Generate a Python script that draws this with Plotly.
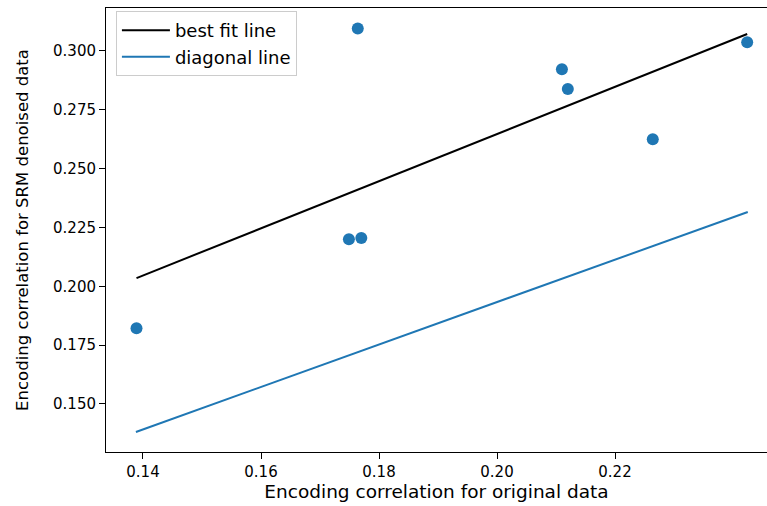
import plotly.graph_objects as go

# Data
orig_corr = [0.1389, 0.1749, 0.1770, 0.1764, 0.2110, 0.2120, 0.2264, 0.2424]
srm_corr = [0.1822, 0.2200, 0.2205, 0.3096, 0.2922, 0.2838, 0.2625, 0.3037]

fit_x = [0.1389, 0.2424]
fit_y = [0.2035, 0.3072]

diag_x = [0.1388, 0.2425]
diag_y = [0.1381, 0.2316]

x_ticks = [0.14, 0.16, 0.18, 0.20, 0.22]
x_tick_labels = ["0.14", "0.16", "0.18", "0.20", "0.22"]
y_ticks = [0.150, 0.175, 0.200, 0.225, 0.250, 0.275, 0.300]
y_tick_labels = ["0.150", "0.175", "0.200", "0.225", "0.250", "0.275", "0.300"]

BLUE = "#1f77b4"
FONT = "DejaVu Sans"
TICK_FS = 15

fig = go.Figure()
fig.add_trace(go.Scatter(x=fit_x, y=fit_y, mode="lines", name="best fit line",
                         line=dict(color="black", width=2)))
fig.add_trace(go.Scatter(x=diag_x, y=diag_y, mode="lines", name="diagonal line",
                         line=dict(color=BLUE, width=2)))
fig.add_trace(go.Scatter(x=orig_corr, y=srm_corr, mode="markers", showlegend=False,
                         marker=dict(color=BLUE, size=12, line=dict(width=0))))

fig.update_layout(
    width=767, height=506,
    margin=dict(l=106, r=0, t=8, b=54),
    paper_bgcolor="white", plot_bgcolor="white",
    font=dict(family=FONT, size=TICK_FS, color="black"),
    legend=dict(x=0.015, y=0.993, xanchor="left", yanchor="top",
                bgcolor="rgba(255,255,255,0.8)", bordercolor="#cccccc", borderwidth=1,
                font=dict(family=FONT, size=18, color="black"),
                itemwidth=48, tracegroupgap=0),
)
fig.update_xaxes(
    range=[0.13373, 0.24576], tickvals=x_ticks, ticktext=x_tick_labels,
    showgrid=False, zeroline=False, showline=True, linecolor="black", linewidth=1,
    mirror=True, ticks="outside", ticklen=6, tickcolor="black", tickwidth=1,
    tickfont=dict(family=FONT, size=TICK_FS, color="black"),
    title=dict(text="Encoding correlation for original data", standoff=5,
               font=dict(family=FONT, size=18.5, color="black")),
)
fig.update_yaxes(
    range=[0.12958, 0.31827], tickvals=y_ticks, ticktext=y_tick_labels,
    showgrid=False, zeroline=False, showline=True, linecolor="black", linewidth=1,
    mirror=False, ticks="outside", ticklen=6, tickcolor="black", tickwidth=1,
    tickfont=dict(family=FONT, size=TICK_FS, color="black"),
    title=dict(text="Encoding correlation for SRM denoised data", standoff=20,
               font=dict(family=FONT, size=16.5, color="black")),
)

fig.write_html("out.html")
